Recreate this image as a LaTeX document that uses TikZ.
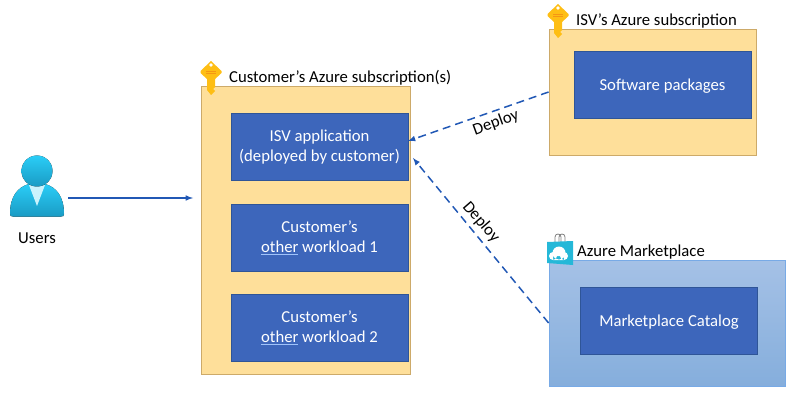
\documentclass[tikz,border=0pt]{standalone}
\usepackage{fontspec}
\setmainfont{Carlito}
\usepackage{tikz}
\usetikzlibrary{arrows}
\usetikzlibrary{positioning}
\definecolor{subfill}{RGB}{254, 223, 154}
\definecolor{subline}{RGB}{205, 170, 105}
\definecolor{appblue}{RGB}{61, 102, 187}
\definecolor{appline}{RGB}{47, 85, 151}
\definecolor{linkblue}{RGB}{33, 88, 181}
\definecolor{skyline}{RGB}{120, 170, 230}
\definecolor{skytop}{RGB}{165, 193, 230}
\definecolor{skylow}{RGB}{133, 174, 220}
\definecolor{bagblue}{RGB}{37, 184, 216}
\definecolor{keygold}{RGB}{254, 190, 20}
\definecolor{keyorange}{RGB}{245, 150, 20}
\definecolor{usertop}{RGB}{42, 205, 247}
\definecolor{userlow}{RGB}{26, 155, 196}
\definecolor{otherline}{RGB}{160, 195, 250}
\newcommand{\otherword}{\textcolor{otherline}{\underline{\textcolor{white}{other}}}}
\tikzset{
    subbox/.style   = {draw=subline, fill=subfill, line width=0.8pt, minimum width=#1, inner sep=0pt},
    appbox/.style   = {draw=appline, fill=appblue, text=white, align=center, line width=0.6pt,
                       minimum width=177pt, minimum height=67pt, inner sep=0pt, font=\fontsize{16.7}{20}\selectfont,
                       execute at begin node={\rule{0pt}{14.5pt}}},
    title/.style    = {anchor=west, inner sep=0pt, font=\fontsize{16.7}{18}\selectfont},
    deploy/.style   = {draw=linkblue, line width=1.5pt, dash pattern=on 8pt off 5pt, -latex},
    keyicon/.pic    = {
        \fill[keygold]   (-4, 6) -- (-4, 18) -- (0, 23) -- (4, 19) -- (2, 17) -- (4, 15) -- (4, 6) -- cycle;
        \fill[keygold]   ( 0,-11) -- (10.5,-1) -- (10.5,1) -- (3,8) -- (-3,8) -- (-10.5,1) -- (-10.5,-1) -- cycle;
        \fill[white]     ( 0,-7) circle (1.8);
        \draw[keyorange, line width=1pt] (-5, 0) -- (5, 0);
        \draw[keyorange, line width=1pt] (-5, 2) -- (5, 2);
    }
}
\begin{document}
\begin{tikzpicture}[x=1pt, y=-1pt]
    \useasboundingbox (0,0) rectangle (800,406);

    % subscription boxes
    \node[subbox=209pt, minimum height=288pt] (customer) at (305.5,230) {};
    \node[subbox=207pt, minimum height=126pt] (isv)      at (652.5, 92) {};
    \node[draw=skyline, line width=0.8pt, minimum width=236pt, minimum height=126pt, inner sep=0pt,
          top color=skytop, bottom color=skylow] (market) at (667,323) {};

    % application boxes
    \node[appbox] (app)      at (319.5,147) {ISV application\\(deployed by customer)};
    \node[appbox] (work1)    at (319.5,238) {Customer’s\\\otherword{} workload 1};
    \node[appbox] (work2)    at (319.5,328) {Customer’s\\\otherword{} workload 2};
    \node[appbox] (software) at (662.5, 85) {Software packages};
    \node[appbox] (catalog)  at (669,  321) {Marketplace Catalog};

    % titles
    \node[title] (custitle) at (229, 78) {Customer’s Azure subscription(s)};
    \node[title] (isvtitle) at (576, 21) {ISV’s Azure subscription};
    \node[title] (mkttitle) at (577,252) {Azure Marketplace};

    % keys
    \pic at (211, 72) {keyicon};
    \pic at (558, 15) {keyicon};

    % marketplace bag
    \draw[gray, line width=0.8pt] (555,243) -- (555,237) .. controls (555,233) and (561,233) .. (561,237) -- (561,243);
    \draw[gray, line width=0.8pt] (559,243) -- (559,237) .. controls (559,233) and (565,233) .. (565,237) -- (565,243);
    \fill[bagblue] (547,242) -- (573,241) -- (573,265) -- (547,263) -- cycle;
    \fill[white] (553,256) circle (4) (559,253) circle (6.5) (564,256) circle (4) (553,256) rectangle (564,260);

    % users icon
    \fill[top color=usertop, bottom color=userlow]
        (10,214) .. controls (10,196) and (18,187) .. (29,184) -- (45,184)
        .. controls (56,187) and (64,196) .. (64,214)
        .. controls (64,216) and (63,216.500) .. (61,216.500) -- (13,216.500)
        .. controls (11,216.500) and (10,216) .. (10,214) -- cycle;
    \fill[white!75!usertop] (29,185) -- (45,185) -- (37,206) -- cycle;
    \fill[top color=usertop, bottom color=userlow] (37,171) circle (15.5);
    \node[inner sep=0pt, font=\fontsize{16.7}{18}\selectfont] (users) at (37,238) {Users};

    % connectors
    \coordinate (userout) at (68,198);
    \coordinate (userin)  at (193,198);
    \coordinate (appin)   at (408,141);
    \coordinate (appside) at (413,158);
    \draw[draw=linkblue, line width=1.5pt, -latex] (userout) -- (userin);
    \draw[deploy] (isv.west)    -- (appin);
    \draw[deploy] (market.west) -- (appside);

    % link labels
    \node[rotate=20,  inner sep=0pt, font=\fontsize{16.7}{18}\selectfont] (deployisv) at (496,123) {Deploy};
    \node[rotate=-49, inner sep=0pt, font=\fontsize{16.7}{18}\selectfont] (deploymkt) at (481,222) {Deploy};
\end{tikzpicture}
\end{document}
